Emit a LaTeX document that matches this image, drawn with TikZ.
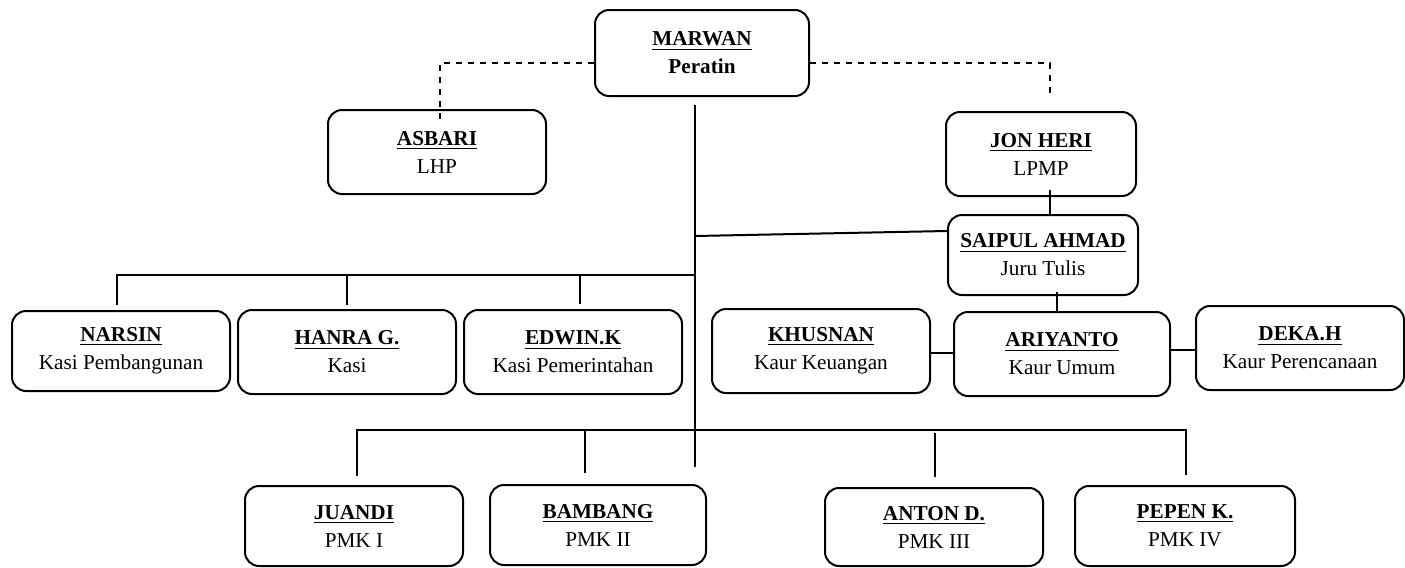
\documentclass[tikz,border=0pt]{standalone}
\usepackage{fontspec}
\setmainfont{Liberation Serif}
\usepackage{tikz}
\usetikzlibrary{positioning,shapes,arrows}

\begin{document}
\begin{tikzpicture}[x=0.5pt,y=-0.5pt,line width=1pt]
\tikzstyle{every node}+=[inner sep=0pt]
\tikzstyle{kotak}=[draw,rounded corners=7pt,align=center,minimum width=109pt,minimum height=42pt,
  font=\fontsize{10.6}{14}\selectfont]
\useasboundingbox (0,0) rectangle (1405,568);
% kepala
\node [kotak,minimum width=107pt,minimum height=43pt] (marwan) at (702,53) {\textbf{\underline{MARWAN}}\\\textbf{Peratin}};
\node [kotak] (asbari) at (437,152) {\textbf{\underline{ASBARI}}\\LHP};
\node [kotak,minimum width=95pt] (jonheri) at (1041,154) {\textbf{\underline{JON HERI}}\\LPMP};
\node [kotak,minimum width=95pt,minimum height=40pt] (saipul) at (1043,255) {\textbf{\underline{SAIPUL AHMAD}}\\Juru Tulis};
% kasi
\node [kotak,minimum height=40pt] (narsin) at (121,351) {\textbf{\underline{NARSIN}}\\Kasi Pembangunan};
\node [kotak] (hanra) at (347,352) {\textbf{\underline{HANRA G.}}\\Kasi};
\node [kotak] (edwin) at (573,352) {\textbf{\underline{EDWIN.K}}\\Kasi Pemerintahan};
% kaur
\node [kotak] (khusnan) at (821,351) {\textbf{\underline{KHUSNAN}}\\Kaur Keuangan};
\node [kotak,minimum width=108pt] (ariyanto) at (1062,354) {\textbf{\underline{ARIYANTO}}\\Kaur Umum};
\node [kotak,minimum width=104pt] (deka) at (1300,348) {\textbf{\underline{DEKA.H}}\\Kaur Perencanaan};
% pemangku
\node [kotak,minimum height=40pt] (juandi) at (354,526) {\textbf{\underline{JUANDI}}\\PMK I};
\node [kotak,minimum width=108pt,minimum height=40pt] (bambang) at (598,525) {\textbf{\underline{BAMBANG}}\\PMK II};
\node [kotak,minimum height=39pt] (anton) at (934,527) {\textbf{\underline{ANTON D.}}\\PMK III};
\node [kotak,minimum width=110pt,minimum height=40pt] (pepen) at (1185,526) {\textbf{\underline{PEPEN K.}}\\PMK IV};
% garis batang
\coordinate (ttop) at (695,105);
\coordinate (tmid) at (695,236);
\coordinate (tleft) at (695,275);
\coordinate (bus) at (695,430);
\coordinate (tend) at (695,467);
\draw (ttop) -- (tend);
% garis putus
\draw [dashed] ([yshift=-5pt]marwan.west) -| ([shift={(3,12)}]asbari.north);
\draw [dashed] ([yshift=-5pt]marwan.east) -| ([shift={(9,-17)}]jonheri.north);
\draw (tmid) -- ([yshift=12pt]saipul.west);
\draw ([shift={(9,-7)}]jonheri.south) -- ([xshift=4.5pt]jonheri.south |- saipul.north);
\draw ([shift={(14,-4)}]saipul.south) -- ([xshift=7pt]saipul.south |- ariyanto.north);
\draw ([yshift=-1pt]khusnan.east) -- ([yshift=-1pt]khusnan.east -| ariyanto.west);
\draw ([yshift=2pt]ariyanto.east) -- ([yshift=2pt]ariyanto.east -| deka.west);
% kasi
\draw ([shift={(-4,-5)}]narsin.north) |- (tleft);
\draw ([yshift=2pt]hanra.north) -- (hanra.north |- tleft);
\draw ([shift={(7,-5)}]edwin.north) -- ([xshift=3.5pt]edwin.north |- tleft);
% pemangku
\draw ([shift={(3,-9)}]juandi.north) |- (bus) -| ([shift={(1,-10)}]pepen.north);
\draw ([shift={(-13,-11)}]bambang.north) -- ([xshift=-6.5pt]bambang.north |- bus);
\draw ([shift={(1,-10)}]anton.north) -- ([shift={(1,3)}]anton.north |- bus);
\end{tikzpicture}
\end{document}
